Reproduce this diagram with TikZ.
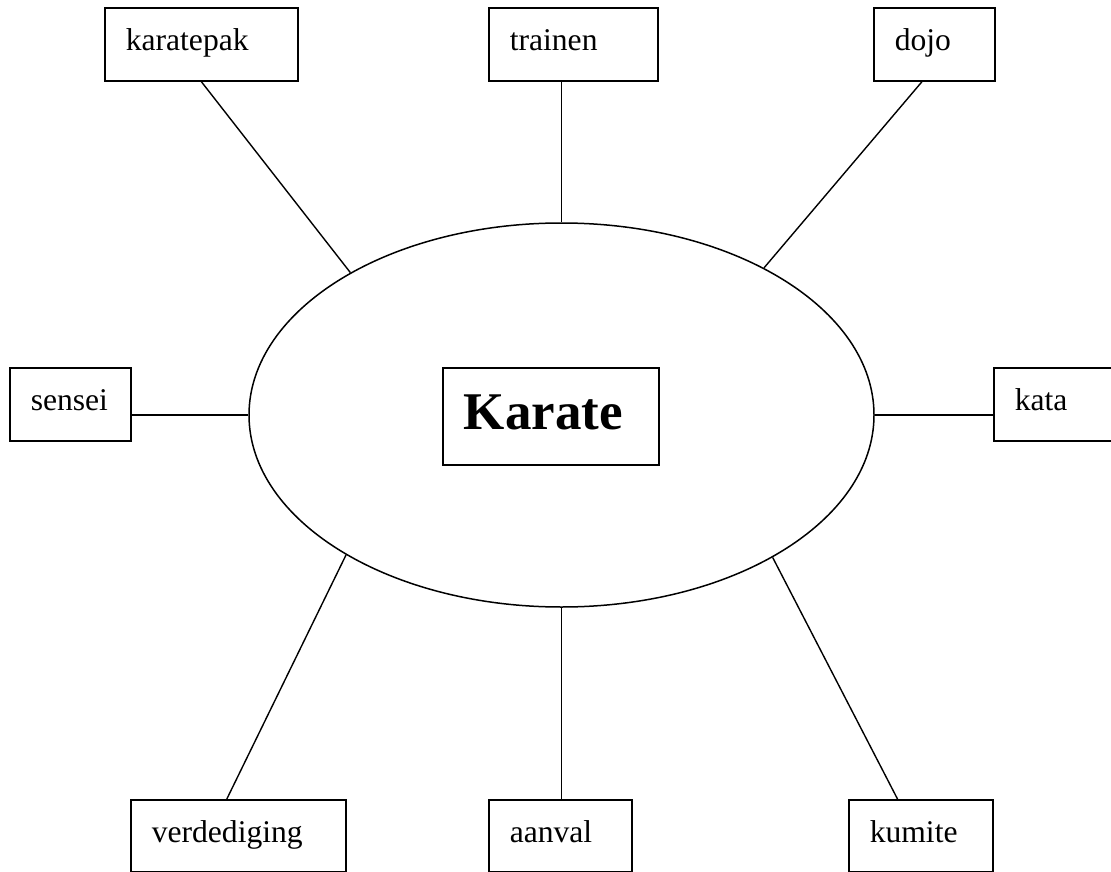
\documentclass[tikz,border=0pt]{standalone}
\usepackage{fontspec}
\setmainfont{Liberation Serif}
\usetikzlibrary{shapes.geometric,calc}
\begin{document}
\begin{tikzpicture}[x=1pt,y=-1pt,line width=1.5pt,
  box/.style={draw,line width=1.6pt,inner sep=0pt,inner xsep=21pt,text height=43pt,text depth=30pt,
    anchor=north west,align=left,font=\fontsize{31.6}{36}\selectfont},
  lowbox/.style={box,text depth=28.5pt},
  titlebox/.style={draw,line width=1.6pt,inner sep=0pt,inner xsep=21pt,text height=62pt,text depth=35pt,
    anchor=north west,align=left,font=\fontsize{53}{60}\selectfont\bfseries},
  conn/.style={line width=1.4pt}]
\useasboundingbox (0,0) rectangle (1111,872);
\node[draw,line width=1.5pt,ellipse,minimum width=625pt,minimum height=384pt,inner sep=0pt] (ell) at (561.5,415) {};
\node[box,text width=151pt] (kp) at (104,7) {karatepak};
\node[box,text width=127pt] (tr) at (488,7) {trainen};
\node[box,text width=79pt] (dj) at (873,7) {dojo};
\node[box,text width=79pt] (ss) at (9,367) {sensei};
\node[box,text width=120pt] (kt) at (993,367) {kata};
\node[lowbox,text width=173pt] (vd) at (130,799) {verdediging};
\node[lowbox,text width=101pt] (av) at (488,799) {aanval};
\node[lowbox,text width=102pt] (km) at (848,799) {kumite};
\node[titlebox,text width=174pt] (kr) at (442,367) {Karate};
\draw[conn] (kp.south) -- (ell.146.4);
\draw[conn] (tr.south -| ell.north) -- (ell.north);
\draw[conn] ($(dj.south west)!0.4!(dj.south east)$) -- (ell.36.7);
\draw[conn] (ss.east |- ell.west) -- (ell.west);
\draw[conn] (kt.west |- ell.east) -- (ell.east);
\draw[conn] ($(vd.north west)!0.447!(vd.north east)$) -- (ell.213.7);
\draw[conn] (av.north -| ell.south) -- (ell.south);
\draw[conn] ($(km.north west)!0.34!(km.north east)$) -- (ell.326.3);
\end{tikzpicture}
\end{document}
